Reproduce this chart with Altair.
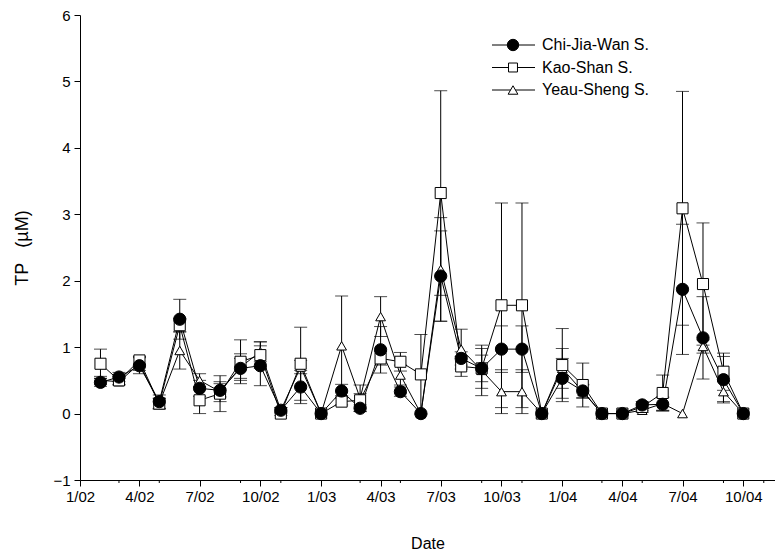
import altair as alt
import pandas as pd

FONT = "Liberation Sans"

# Monthly sampling dates (first of each month, Feb 2002 - Oct 2004)
dates = [d.strftime("%Y-%m-%dT00:00:00") for d in pd.date_range("2002-02-01", periods=33, freq="MS")]

series_names = ["Chi-Jia-Wan S.", "Kao-Shan S.", "Yeau-Sheng S."]

chi = [0.47, 0.55, 0.72, 0.18, 1.42, 0.38, 0.35, 0.68, 0.72, 0.05, 0.40, 0.00,
       0.34, 0.08, 0.96, 0.33, 0.00, 2.07, 0.83, 0.68, 0.97, 0.97, 0.00,
       0.53, 0.34, 0.00, 0.00, 0.13, 0.14, 1.87, 1.14, 0.51, 0.00]
chi_err = [0.06, 0.07, 0.12, 0.10, 0.30, 0.12, 0.10, 0.15, 0.30, 0.04, 0.25, 0.00,
           0.10, 0.05, 0.35, 0.07, 0.00, 0.68, 0.10, 0.20, 0.35, 0.35, 0.00,
           0.30, 0.10, 0.00, 0.00, 0.05, 0.10, 0.98, 0.62, 0.35, 0.00]
kao = [0.75, 0.50, 0.80, 0.15, 1.33, 0.20, 0.30, 0.78, 0.88, 0.00, 0.75, 0.00,
       0.18, 0.20, 0.83, 0.78, 0.59, 3.32, 0.71, 0.68, 1.63, 1.63, 0.00,
       0.73, 0.43, 0.00, 0.00, 0.10, 0.31, 3.09, 1.95, 0.63, 0.00]
kao_err = [0.22, 0.06, 0.06, 0.08, 0.10, 0.20, 0.27, 0.33, 0.20, 0.03, 0.55, 0.00,
           0.05, 0.10, 0.10, 0.14, 0.60, 1.54, 0.15, 0.30, 1.54, 1.54, 0.00,
           0.55, 0.33, 0.00, 0.00, 0.05, 0.27, 1.76, 0.92, 0.28, 0.00]
yeau = [0.50, 0.48, 0.75, 0.15, 0.95, 0.50, 0.33, 0.70, 0.93, 0.05, 0.70, 0.00,
        1.02, 0.23, 1.46, 0.58, 0.00, 2.17, 0.97, 0.65, 0.33, 0.33, 0.00,
        0.68, 0.33, 0.00, 0.00, 0.05, 0.15, 0.00, 1.01, 0.33, 0.00]
yeau_err = [0.06, 0.05, 0.10, 0.08, 0.28, 0.10, 0.15, 0.20, 0.15, 0.04, 0.10, 0.00,
            0.75, 0.20, 0.30, 0.15, 0.00, 0.78, 0.30, 0.38, 0.33, 0.33, 0.00,
            0.30, 0.10, 0.00, 0.00, 0.03, 0.10, 0.00, 0.10, 0.15, 0.00]

major_ticks = [(2002, 1), (2002, 4), (2002, 7), (2002, 10),
               (2003, 1), (2003, 4), (2003, 7), (2003, 10),
               (2004, 1), (2004, 4), (2004, 7), (2004, 10)]
minor_ticks = ["2002-03-01T00:00:00", "2002-05-01T00:00:00", "2002-09-01T00:00:00", "2002-11-01T00:00:00",
               "2003-03-01T00:00:00", "2003-05-01T00:00:00", "2003-09-01T00:00:00", "2003-11-01T00:00:00",
               "2004-03-01T00:00:00", "2004-05-01T00:00:00", "2004-09-01T00:00:00", "2004-11-01T00:00:00"]
y_ticks = [-1, 0, 1, 2, 3, 4, 5, 6]

rows = []
for name, vals, errs in zip(series_names, [chi, kao, yeau], [chi_err, kao_err, yeau_err]):
    for d, v, e in zip(dates, vals, errs):
        rows.append({"date": d, "series": name, "tp": v, "err": e})
df = pd.DataFrame(rows)

W, H = 695, 465

x_scale = alt.Scale(domain=[alt.DateTime(year=2002, month=1, date=1),
                            alt.DateTime(year=2004, month=11, date=18)])
y_scale = alt.Scale(domain=[-1, 6], nice=False, zero=False)

x_axis = alt.Axis(values=[alt.DateTime(year=y, month=m, date=1) for y, m in major_ticks],
                  format="%-m/%y", labelFont=FONT, labelFontSize=15, labelColor="black",
                  tickColor="black", tickSize=6, tickWidth=1, domainColor="black", domainWidth=1,
                  grid=False, labelPadding=3, labelFlush=False, labelOverlap=False,
                  titleFont=FONT, titleFontSize=16, titleFontWeight="normal", titleColor="black",
                  titleY=63, titleBaseline="middle")
y_axis = alt.Axis(values=y_ticks, format="d", labelFont=FONT, labelFontSize=15, labelColor="black",
                  tickColor="black", tickSize=6, tickWidth=1, domainColor="black", domainWidth=1,
                  grid=False, labelPadding=4,
                  titleFont=FONT, titleFontSize=18, titleFontWeight="normal", titleColor="black",
                  titleX=-58, titleY=H / 2, titleBaseline="middle")

X_TITLE = "Date"
Y_TITLE = "TP\u00a0\u00a0\u00a0(µM)"


def xenc(field="date:T"):
    return alt.X(field, scale=x_scale, axis=x_axis, title=X_TITLE)


def yenc(field):
    return alt.Y(field, scale=y_scale, axis=y_axis, title=Y_TITLE)


base = alt.Chart(df)

lines = base.mark_line(color="black", strokeWidth=1).encode(
    x=xenc(), y=yenc("tp:Q"), detail="series:N"
)

err = base.transform_filter("datum.err > 0").transform_calculate(
    lo="datum.tp - datum.err", hi="datum.tp + datum.err"
)
err_rules = err.mark_rule(color="black", strokeWidth=1).encode(
    x=xenc(), y=yenc("lo:Q"), y2="hi:Q"
)
cap_lo = err.mark_tick(orient="horizontal", size=13, thickness=1, color="black").encode(
    x=xenc(), y=yenc("lo:Q")
)
cap_hi = err.mark_tick(orient="horizontal", size=13, thickness=1, color="black").encode(
    x=xenc(), y=yenc("hi:Q")
)

shape_scale = alt.Scale(domain=series_names, range=["circle", "square", "triangle-up"])
fill_scale = alt.Scale(domain=series_names, range=["black", "white", "white"])
size_scale = alt.Scale(domain=series_names, range=[150, 95, 110])


def points(name):
    return base.transform_filter(alt.datum.series == name).mark_point(
        filled=True, stroke="black", strokeWidth=1, opacity=1
    ).encode(
        x=xenc(), y=yenc("tp:Q"),
        shape=alt.Shape("series:N", scale=shape_scale, legend=None),
        fill=alt.Fill("series:N", scale=fill_scale, legend=None),
        size=alt.Size("series:N", scale=size_scale, legend=None),
    )


minor = alt.Chart(pd.DataFrame({"date": minor_ticks})).mark_rule(color="black", strokeWidth=1).encode(
    x=xenc(), y=alt.value(H), y2=alt.value(H + 3)
)

# Legend (inside plot, top right)
legend_layers = []
leg_shapes = ["circle", "square", "triangle-up"]
leg_fills = ["black", "white", "white"]
leg_sizes = [130, 80, 95]
for i, name in enumerate(series_names):
    ly = 30 + i * 22.5
    one = alt.Chart(pd.DataFrame({"label": [name]}))
    legend_layers.append(one.mark_rule(color="black", strokeWidth=1).encode(
        x=alt.value(412), x2=alt.value(455), y=alt.value(ly)))
    legend_layers.append(one.mark_point(shape=leg_shapes[i], filled=True, fill=leg_fills[i],
                                        stroke="black", strokeWidth=1, size=leg_sizes[i], opacity=1).encode(
        x=alt.value(433), y=alt.value(ly)))
    legend_layers.append(one.mark_text(align="left", baseline="middle", font=FONT, fontSize=16,
                                       color="black").encode(
        x=alt.value(462), y=alt.value(ly), text="label:N"))

chart = alt.layer(
    lines, err_rules, cap_lo, cap_hi, minor,
    points("Yeau-Sheng S."), points("Kao-Shan S."), points("Chi-Jia-Wan S."),
    *legend_layers
).resolve_scale(shape="shared", fill="shared", size="shared").properties(
    width=W, height=H,
    autosize=alt.AutoSizeParams(type="none"),
    padding={"left": 80, "top": 15, "right": 0, "bottom": 79},
    background="white",
).configure_view(stroke=None)

chart.save("out.html", embed_options={"renderer": "svg", "actions": False})
